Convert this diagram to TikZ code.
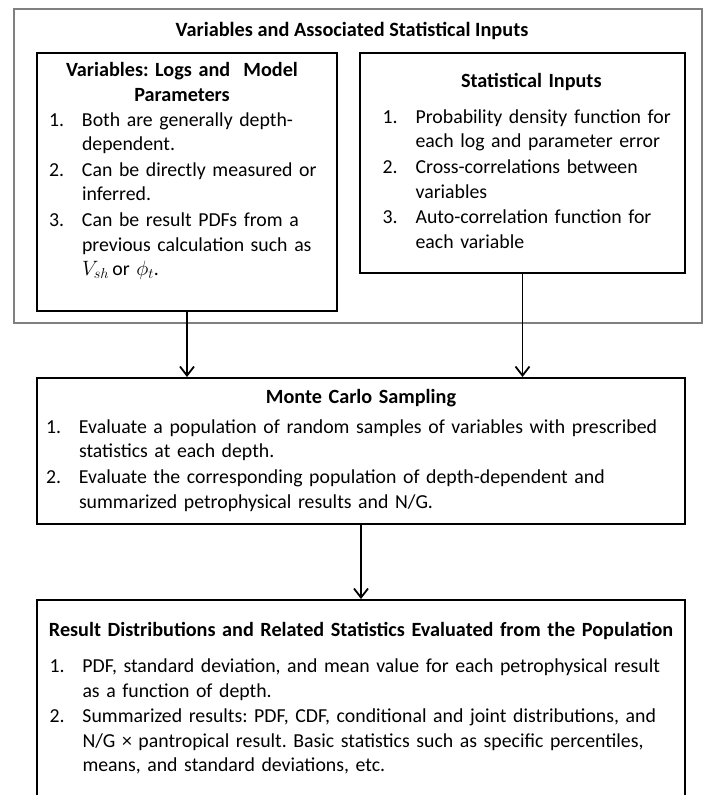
\documentclass[tikz,border=0pt]{standalone}
\usepackage{fontspec}
\setmainfont{Carlito}
\usetikzlibrary{arrows.meta}
\frenchspacing

% numbered entry, lines broken by hand
\newcommand{\numitem}[2]{\noindent\makebox[33pt][l]{#1}\begin{tabular}[t]{@{}l@{}}#2\end{tabular}\par}
\newcommand{\boxhead}[1]{\noindent\makebox[\dimexpr\linewidth-\leftskip\relax]{\fontsize{20.2}{24.6}\selectfont\bfseries\strut #1}\par}

\begin{document}
\begin{tikzpicture}[x=1pt, y=-1pt,
    >={Straight Barb[length=9pt,width=14pt]},
    every node/.style={font=\fontsize{19.8}{24.6}\selectfont},
    box/.style={draw=black, line width=2pt, anchor=north west, inner xsep=12pt},
    flow/.style={->, line width=1.8pt}]
    \useasboundingbox (0,0) rectangle (704,795);

    % outer frame with its heading
    \node[draw=black!50, line width=2.4pt, anchor=north west, minimum width=688pt, minimum height=314pt, inner sep=0pt] (inputs) at (13,8) {};
    \node[anchor=base, font=\fontsize{20.3}{24.6}\selectfont\bfseries] (inputsTitle) at (352,36) {Variables and Associated Statistical Inputs};

    \node[box, text width=276pt, inner ysep=6.6pt] (vars) at (36,52) {%
        \boxhead{Variables: Logs and\ \ Model\hspace*{10pt}}
        \boxhead{Parameters\hspace*{10pt}}
        \numitem{1.}{Both are generally depth-\\dependent.}
        \numitem{2.}{Can be directly measured or\\inferred.}
        \numitem{3.}{Can be result PDFs from a\\previous calculation such as\\$V_{sh}$\,or $\phi_t$.\rule[-29pt]{0pt}{29pt}}};

    \node[box, text width=315pt, inner xsep=5pt, inner ysep=17pt] (stats) at (359,52) {%
        \leftskip=17.6pt
        \boxhead{Statistical Inputs}\vspace{11.5pt}
        \numitem{1.}{Probability density function for\\each log and parameter error}
        \numitem{2.}{Cross-correlations between\\variables}
        \numitem{3.}{Auto-correlation function for\\each variable}};

    \node[box, text width=630pt, inner xsep=9pt, inner ysep=8pt] (mc) at (36,377) {%
        \boxhead{Monte Carlo Sampling}\vspace{5.5pt}
        \numitem{1.}{Evaluate a population of random samples of variables with prescribed\\statistics at each depth.}
        \numitem{2.}{Evaluate the corresponding population of depth-dependent and\\summarized petrophysical results and N/G.}};

    \node[box, text width=623pt, inner xsep=12.5pt, inner ysep=19.6pt] (results) at (36,599) {%
        \boxhead{Result Distributions and Related Statistics Evaluated from the Population}\vspace{11pt}
        \numitem{1.}{PDF, standard deviation, and mean value for each petrophysical result\\as a function of depth.}
        \numitem{2.}{Summarized results: PDF, CDF, conditional and joint distributions, and\\N/G × pantropical result. Basic statistics such as specific percentiles,\\means, and standard deviations, etc.\rule[-20pt]{0pt}{20pt}}};

    \draw[flow] (vars.south) -- (vars.south |- mc.north);
    \draw[flow] (stats.south) -- (stats.south |- mc.north);
    \draw[flow] (mc.south) -- (results.north);
\end{tikzpicture}
\end{document}
